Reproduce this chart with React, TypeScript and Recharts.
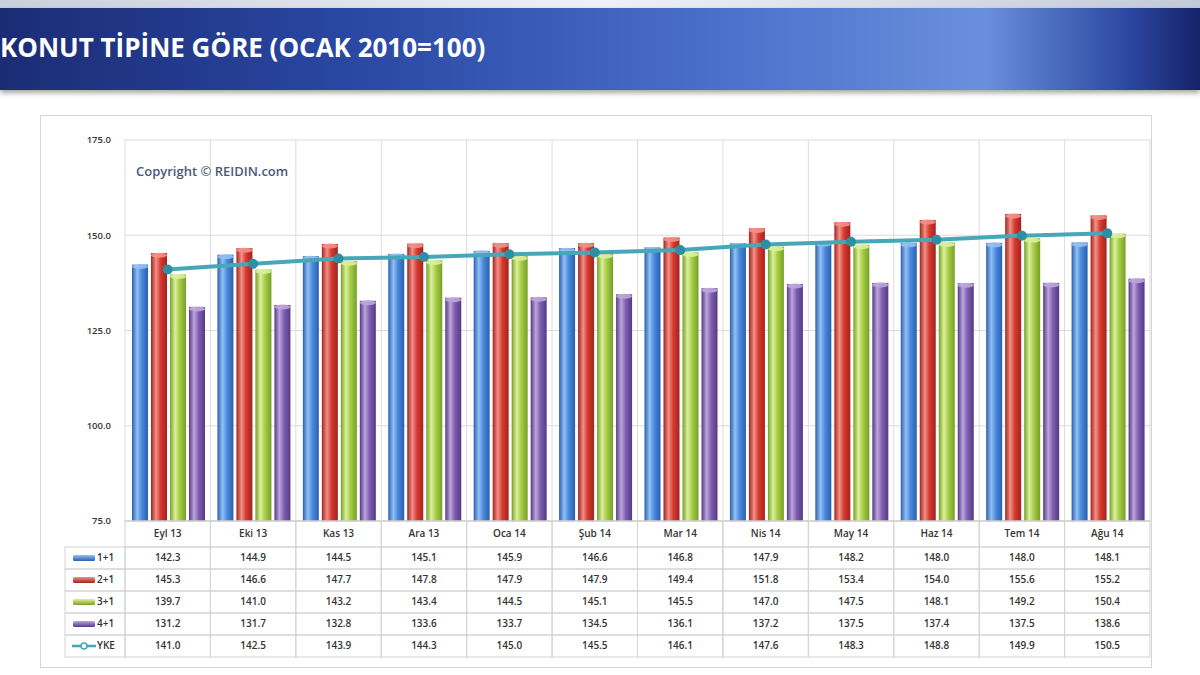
import {
  ComposedChart,
  Bar,
  Line,
  XAxis,
  YAxis,
  CartesianGrid
} from "recharts";

const months = ["Eyl 13", "Eki 13", "Kas 13", "Ara 13", "Oca 14", "Şub 14", "Mar 14", "Nis 14", "May 14", "Haz 14", "Tem 14", "Ağu 14"];
const oneRoom = [142.3, 144.9, 144.5, 145.1, 145.9, 146.6, 146.8, 147.9, 148.2, 148.0, 148.0, 148.1];
const twoRoom = [145.3, 146.6, 147.7, 147.8, 147.9, 147.9, 149.4, 151.8, 153.4, 154.0, 155.6, 155.2];
const threeRoom = [139.7, 141.0, 143.2, 143.4, 144.5, 145.1, 145.5, 147.0, 147.5, 148.1, 149.2, 150.4];
const fourRoom = [131.2, 131.7, 132.8, 133.6, 133.7, 134.5, 136.1, 137.2, 137.5, 137.4, 137.5, 138.6];
const yke = [141.0, 142.5, 143.9, 144.3, 145.0, 145.5, 146.1, 147.6, 148.3, 148.8, 149.9, 150.5];
const yTicks = [75, 100, 125, 150, 175];

const series = [
  { key: "r1", name: "1+1", values: oneRoom, dark: "#2a5fae", mid: "#4a8ade", light: "#93c0f2" },
  { key: "r2", name: "2+1", values: twoRoom, dark: "#a3231e", mid: "#d63a30", light: "#f29088" },
  { key: "r3", name: "3+1", values: threeRoom, dark: "#76a026", mid: "#a6cc46", light: "#dcf09c" },
  { key: "r4", name: "4+1", values: fourRoom, dark: "#563888", mid: "#7f5fb0", light: "#bca6dc" }
];

const data = months.map((m, i) => ({
  month: m,
  r1: oneRoom[i],
  r2: twoRoom[i],
  r3: threeRoom[i],
  r4: fourRoom[i],
  yke: yke[i]
}));

// layout
const W = 1200;
const H = 675;
const M = { top: 140, right: 50, bottom: 19, left: 60 };
const Y_AXIS_W = 65;
const X_AXIS_H = 135;
const PLOT_LEFT = M.left + Y_AXIS_W;
const PLOT_BOTTOM = H - M.bottom - X_AXIS_H;
const COL_W = (W - M.right - PLOT_LEFT) / months.length;
const HEAD_H = 26;
const ROW_H = 22;
const LINE_COLOR = "#46a7b9";
const BORDER = "#d3d3d3";
const FONT = "'Open Sans', sans-serif";

const CylBar = (props: any) => {
  const { x, y, width, height, gid, cap } = props;
  if (!height || height <= 0) return null;
  return (
    <g>
      <rect x={x} y={y} width={width} height={height} fill={`url(#${gid})`} />
      <ellipse cx={x + width / 2} cy={y + 2} rx={width / 2} ry={2.5} fill={cap} opacity={0.9} />
    </g>
  );
};

const rows = [...series.map((s) => ({ name: s.name, values: s.values, s })), { name: "YKE", values: yke, s: null as any }];

const TableTick = (props: any) => {
  const { x, payload } = props;
  const i = months.indexOf(payload.value);
  const left = x - COL_W / 2;
  const top = PLOT_BOTTOM;
  return (
    <g fontFamily={FONT} fontSize={10} fontWeight={600} fill="#333">
      <rect x={left} y={top} width={COL_W} height={HEAD_H} fill="none" stroke={BORDER} />
      <text x={x} y={top + 16} textAnchor="middle">{payload.value}</text>
      {rows.map((r, k) => (
        <g key={r.name}>
          <rect x={left} y={top + HEAD_H + k * ROW_H} width={COL_W} height={ROW_H} fill="none" stroke={BORDER} />
          <text x={x} y={top + HEAD_H + k * ROW_H + 14} textAnchor="middle">
            {r.values[i].toFixed(1)}
          </text>
        </g>
      ))}
      {i === 0 &&
        rows.map((r, k) => {
          const ry = top + HEAD_H + k * ROW_H;
          const lx = left - 60;
          return (
            <g key={"lg" + r.name}>
              <rect x={lx} y={ry} width={60} height={ROW_H} fill="none" stroke={BORDER} />
              {r.s ? (
                <rect x={lx + 8} y={ry + 8} width={22} height={6} rx={1.5} fill={`url(#v-${r.s.key})`} />
              ) : (
                <g>
                  <line x1={lx + 7} y1={ry + 11} x2={lx + 31} y2={ry + 11} stroke={LINE_COLOR} strokeWidth={2.5} />
                  <circle cx={lx + 19} cy={ry + 11} r={3} fill="#fff" stroke={LINE_COLOR} strokeWidth={1.5} />
                </g>
              )}
              <text x={lx + 32} y={ry + 14}>{r.name}</text>
            </g>
          );
        })}
    </g>
  );
};

export default function App() {
  return (
    <div style={{ position: "absolute", left: 0, top: 0, width: W, height: H, background: "#fff", overflow: "hidden" }}>
      <div
        style={{
          position: "absolute",
          left: 0,
          top: 0,
          width: W,
          height: 8,
          background: "linear-gradient(to right, #c9d0dc, #eef1f6 50%, #c3cad8)"
        }}
      />
      <div
        style={{
          position: "absolute",
          left: 0,
          top: 8,
          width: W,
          height: 82,
          background: "linear-gradient(to right, #1b2c74 0%, #2a48a4 30%, #4a70cc 60%, #6a90dc 82%, #2c47a0 94%, #15226a 100%)",
          boxShadow: "0 3px 5px rgba(0,0,0,0.35)"
        }}
      />
      <div
        style={{
          position: "absolute",
          left: 0,
          top: 29,
          color: "#fff",
          fontFamily: FONT,
          fontWeight: 700,
          fontSize: 26,
          whiteSpace: "nowrap"
        }}
      >
        KONUT TİPİNE GÖRE (OCAK 2010=100)
      </div>
      <div
        style={{
          position: "absolute",
          left: 40,
          top: 115,
          width: 1112,
          height: 553,
          border: "1px solid #d6d6d6",
          boxSizing: "border-box"
        }}
      />
      <div style={{ position: "absolute", left: 0, top: 0 }}>
        <ComposedChart width={W} height={H} data={data} margin={M} barCategoryGap={7} barGap={3}>
          <defs>
            {series.map((s) => (
              <linearGradient key={s.key} id={`g-${s.key}`} x1="0" y1="0" x2="1" y2="0">
                <stop offset="0%" stopColor={s.dark} />
                <stop offset="32%" stopColor={s.light} />
                <stop offset="60%" stopColor={s.mid} />
                <stop offset="100%" stopColor={s.dark} />
              </linearGradient>
            ))}
            {series.map((s) => (
              <linearGradient key={"v" + s.key} id={`v-${s.key}`} x1="0" y1="0" x2="0" y2="1">
                <stop offset="0%" stopColor={s.light} />
                <stop offset="100%" stopColor={s.dark} />
              </linearGradient>
            ))}
          </defs>
          <CartesianGrid
            stroke="#dcdcdc"
            verticalCoordinatesGenerator={({ offset }: any) =>
              months.map((_, i) => offset.left + (offset.width / months.length) * i).concat(offset.left + offset.width)
            }
          />
          <XAxis
            dataKey="month"
            height={X_AXIS_H}
            tickLine={false}
            axisLine={{ stroke: "#c8c8c8" }}
            tick={<TableTick />}
            interval={0}
          />
          <YAxis
            width={Y_AXIS_W}
            domain={[75, 175]}
            ticks={yTicks}
            tickFormatter={(v: number) => v.toFixed(1)}
            axisLine={false}
            tickLine={false}
            tick={{ fontFamily: FONT, fontSize: 9.5, fontWeight: 600, fill: "#333" }}
            tickMargin={8}
          />
          {series.map((s) => (
            <Bar
              key={s.key}
              dataKey={s.key}
              name={s.name}
              fill={s.mid}
              isAnimationActive={false}
              shape={(p: any) => <CylBar {...p} gid={`g-${s.key}`} cap={s.light} />}
            />
          ))}
          <Line
            dataKey="yke"
            name="YKE"
            stroke={LINE_COLOR}
            strokeWidth={4}
            dot={{ r: 3, fill: "#2e8fa2", stroke: "#2e8fa2" }}
            isAnimationActive={false}
          />
        </ComposedChart>
      </div>
      <div
        style={{
          position: "absolute",
          left: 136,
          top: 162,
          fontFamily: FONT,
          fontWeight: 600,
          fontSize: 13,
          color: "#4b5a78"
        }}
      >
        Copyright © REIDIN.com
      </div>
    </div>
  );
}
